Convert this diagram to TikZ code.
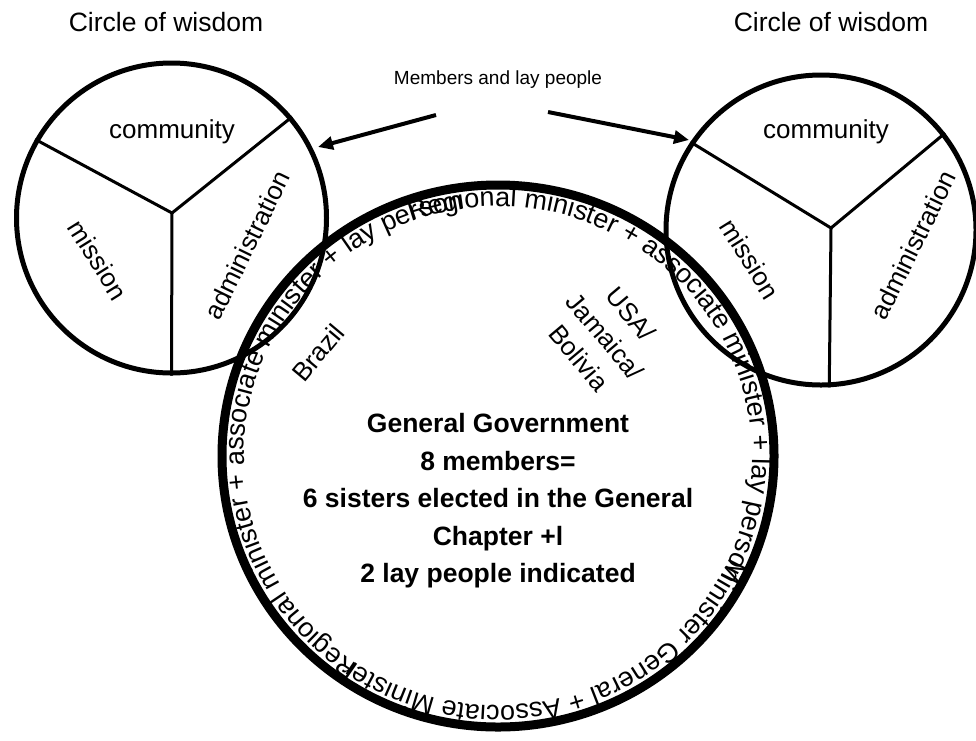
\documentclass[tikz,border=0pt]{standalone}
\usepackage{fontspec}
\setmainfont{Liberation Sans}
\usetikzlibrary{arrows.meta,decorations.text}
\newcommand\ringfont{\fontsize{27}{27}\selectfont}
\begin{document}
\begin{tikzpicture}[x=1pt,y=1pt,
  smallcircle/.style={draw, circle, line width=5pt, minimum size=310pt, inner sep=0pt},
  divider/.style={line width=3pt},
  lbl/.style={font=\fontsize{26}{34}\selectfont, inner sep=0pt, align=center},
  title/.style={font=\fontsize{26.5}{30}\selectfont, inner sep=0pt},
  arrowline/.style={line width=4pt, -{Triangle[length=15pt,width=13pt]}},
  ringtext/.style={decorate, decoration={text along path, text align=left, text={|\ringfont|#1}}}
  ]
\useasboundingbox (0,0) rectangle (976,-740);

% titles
\node[title] (t1) at (166,-22) {Circle of wisdom};
\node[title] (t2) at (831,-22) {Circle of wisdom};
\node[font=\fontsize{19}{22}\selectfont, inner sep=0pt] (mem) at (498,-80) {Members and lay people};

% left circle of wisdom
\node[smallcircle] (lc) at (171.5,-218) {};
\coordinate (ly) at (172,-213);
\draw[divider] (ly) -- (lc.150.4);
\draw[divider] (ly) -- (lc.40.9);
\draw[divider] (ly) -- (lc.270);
\node[lbl] (lcom) at (172,-132) {community};
\node[lbl, rotate=-58] (lmis) at (98,-260) {mission};
\node[lbl, rotate=64] (ladm) at (247,-245) {administration};

% right circle of wisdom
\node[smallcircle] (rc) at (821,-230) {};
\coordinate (ry) at (831,-228);
\draw[divider] (ry) -- (rc.146);
\draw[divider] (ry) -- (rc.38);
\draw[divider] (ry) -- (rc.273.6);
\node[lbl] (rcom) at (826,-132) {community};
\node[lbl, rotate=-58] (rmis) at (750,-259) {mission};
\node[lbl, rotate=64] (radm) at (913,-245) {administration};

% arrows
\coordinate (a1s) at (436,-115);
\coordinate (a1e) at (318,-147);
\coordinate (a2s) at (548,-112);
\coordinate (a2e) at (689,-140);
\draw[arrowline] (a1s) -- (a1e);
\draw[arrowline] (a2s) -- (a2e);

% general government circle
\coordinate (gg) at (498,-456);
\draw[line width=9pt] (gg) ellipse [x radius=276, y radius=271];

\path[ringtext={Regional minister + associate minister + lay person}]
  (gg) ++(110:254 and 249.5) arc[start angle=110, end angle=-240, x radius=254, y radius=249.5];
\path[ringtext={Minister General + Associate Minister}]
  (gg) ++(-24:254 and 249.5) arc[start angle=-24, end angle=-360, x radius=254, y radius=249.5];
\path[ringtext={Regional minister + associate minister + lay person}]
  (gg) ++(-123:254 and 249.5) arc[start angle=-123, end angle=-470, x radius=254, y radius=249.5];

\node[lbl, rotate=50] (bra) at (318,-353) {Brazil};
\node[lbl, rotate=-50] (usa) at (605,-336) {USA/\\Jamaica/\\Bolivia};

\node[font=\fontsize{26.5}{37.5}\selectfont\bfseries, align=center, inner sep=0pt] (gov) at (498,-501)
  {General Government\\8 members=\\6 sisters elected in the General\\Chapter +l\\2 lay people indicated};
\end{tikzpicture}
\end{document}
